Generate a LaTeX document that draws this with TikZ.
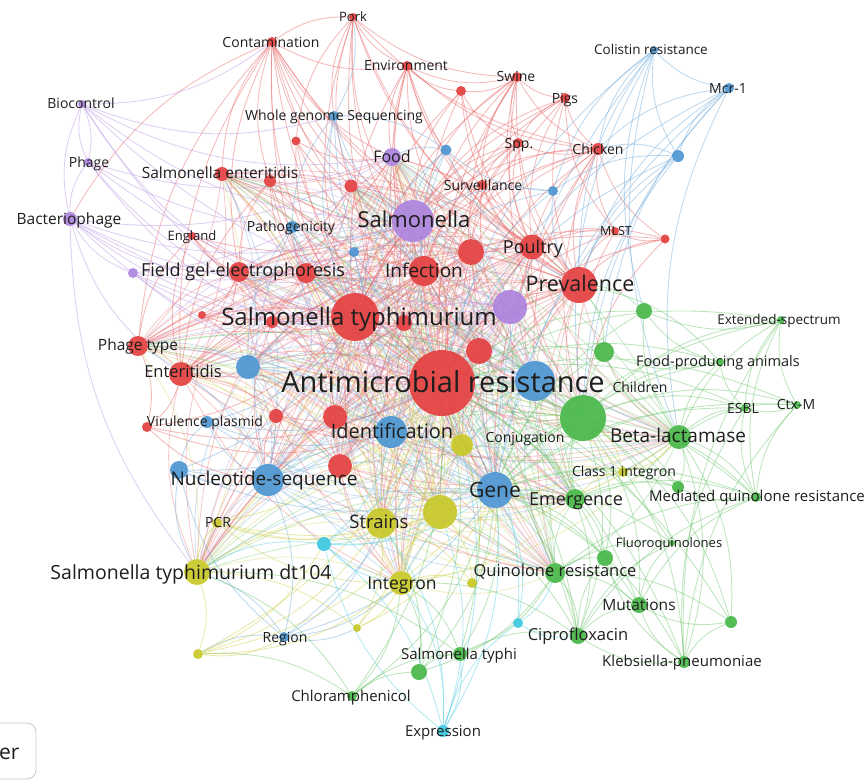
\documentclass[tikz,border=0pt]{standalone}
\usepackage{fontspec}
\setmainfont{Open Sans}
\usetikzlibrary{backgrounds}
\definecolor{cR}{RGB}{228,64,64}
\definecolor{cB}{RGB}{76,150,210}
\definecolor{cG}{RGB}{72,184,72}
\definecolor{cY}{RGB}{200,200,40}
\definecolor{cP}{RGB}{172,132,222}
\definecolor{cC}{RGB}{60,200,224}
\definecolor{txt}{RGB}{30,30,30}
\tikzset{
  vn/.style={circle, inner sep=0pt, draw=none, fill opacity=0.92},
  lab/.style={inner sep=0pt, text=txt, anchor=base},
  edgebase/.style={line width=0.85pt, draw opacity=0.45, bend right=18},
  eR/.style={edgebase, draw=cR!80!white},
  eB/.style={edgebase, draw=cB!80!white},
  eG/.style={edgebase, draw=cG!80!white},
  eY/.style={edgebase, draw=cY!85!white},
  eC/.style={edgebase, draw=cC!85!white},
  eP/.style={edgebase, draw=cP!85!white},
}
\newcommand\vn[5]{\node[vn, fill=#5, minimum size=#4pt] (#1) at (#2,#3) {};}
\newcommand\vl[5]{\node[lab, font=\fontsize{#4}{#4}\selectfont, yshift={-0.36*#4pt}] (#1) at (#2,#3) {#5};}
\begin{document}
\begin{tikzpicture}[x=1pt,y=-1pt]
\useasboundingbox (0,0) rectangle (867,780);
% red
\vn{pork}{353}{17}{8}{cR}
\vn{contam}{272}{42}{10}{cR}
\vn{envir}{407}{66}{10}{cR}
\vn{rA}{461}{91}{10}{cR}
\vn{swine}{517}{77}{10}{cR}
\vn{pigs}{565}{98}{10}{cR}
\vn{spp}{518}{143}{10}{cR}
\vn{chicken}{598}{149}{12}{cR}
\vn{surv}{482}{185}{10}{cR}
\vn{mlst}{615}{231}{8}{cR}
\vn{rB}{665}{239}{9}{cR}
\vn{poultry}{532}{247}{25}{cR}
\vn{prev}{579}{285}{36}{cR}
\vn{rC}{471}{252}{26}{cR}
\vn{infect}{424}{271}{30}{cR}
\vn{rD}{351}{186}{13}{cR}
\vn{senter}{222}{174}{14}{cR}
\vn{rE}{270}{181}{12}{cR}
\vn{rF}{296}{141}{9}{cR}
\vn{england}{192}{236}{8}{cR}
\vn{fge}{239}{272}{20}{cR}
\vn{rG}{306}{273}{20}{cR}
\vn{sty}{355}{317}{48}{cR}
\vn{rH}{202}{315}{8}{cR}
\vn{rI}{272}{322}{12}{cR}
\vn{rJ}{404}{323}{16}{cR}
\vn{phtype}{138}{346}{20}{cR}
\vn{enterit}{181}{374}{24}{cR}
\vn{rK}{147}{427}{10}{cR}
\vn{rL}{276}{416}{14}{cR}
\vn{rM}{335}{417}{24}{cR}
\vn{rN}{340}{466}{24}{cR}
\vn{amr}{442}{383}{66}{cR}
\vn{rO}{479}{351}{26}{cR}
% blue
\vn{colistin}{654}{50}{8}{cB}
\vn{mcr}{729}{88}{10}{cB}
\vn{bA}{678}{156}{12}{cB}
\vn{bB}{446}{150}{11}{cB}
\vn{bC}{553}{191}{10}{cB}
\vn{wgs}{334}{116}{10}{cB}
\vn{pathog}{292}{227}{12}{cB}
\vn{bD}{354}{252}{10}{cB}
\vn{bE}{248}{367}{24}{cB}
\vn{vplas}{207}{422}{12}{cB}
\vn{bF}{179}{470}{18}{cB}
\vn{nucl}{268}{480}{32}{cB}
\vn{ident}{391}{432}{32}{cB}
\vn{bG}{535}{381}{40}{cB}
\vn{gene}{495}{490}{36}{cB}
\vn{region}{284}{637}{10}{cB}
% green
\vn{gA}{583}{418}{46}{cG}
\vn{betal}{679}{437}{24}{cG}
\vn{gB}{644}{311}{16}{cG}
\vn{gC}{604}{352}{20}{cG}
\vn{extsp}{781}{320}{8}{cG}
\vn{fpa}{720}{362}{8}{cG}
\vn{esbl}{745}{408}{8}{cG}
\vn{ctxm}{797}{405}{8}{cG}
\vn{mqr}{756}{497}{10}{cG}
\vn{gD}{678}{487}{12}{cG}
\vn{emerg}{575}{499}{20}{cG}
\vn{gE}{605}{558}{16}{cG}
\vn{fluoro}{672}{543}{6}{cG}
\vn{quinr}{555}{573}{20}{cG}
\vn{mut}{639}{605}{16}{cG}
\vn{gF}{731}{622}{12}{cG}
\vn{cipro}{578}{636}{16}{cG}
\vn{kleb}{684}{662}{12}{cG}
\vn{styphi}{460}{654}{14}{cG}
\vn{gG}{419}{672}{16}{cG}
\vn{chloram}{352}{696}{10}{cG}
% yellow
\vn{dt}{197}{572}{26}{cY}
\vn{yA}{198}{654}{10}{cY}
\vn{pcr}{217}{523}{10}{cY}
\vn{strains}{381}{523}{30}{cY}
\vn{yB}{440}{512}{34}{cY}
\vn{yC}{462}{445}{22}{cY}
\vn{integron}{401}{583}{24}{cY}
\vn{yD}{472}{583}{10}{cY}
\vn{yE}{357}{628}{8}{cY}
\vn{class}{623}{472}{10}{cY}
% cyan
\vn{cyA}{324}{544}{14}{cC}
\vn{cyB}{518}{623}{10}{cC}
\vn{expr}{443}{731}{12}{cC}
% purple
\vn{bioc}{82}{104}{8}{cP}
\vn{phage}{88}{162}{8}{cP}
\vn{bacph}{70}{219}{14}{cP}
\vn{pA}{133}{273}{10}{cP}
\vn{food}{392}{157}{18}{cP}
\vn{salm}{413}{221}{42}{cP}
\vn{pB}{510}{307}{34}{cP}

\begin{pgfonlayer}{background}
\fill[white] (0,0) rectangle (867,780);
% hub-to-hub edges
\foreach \a/\ca [count=\i] in {amr/cR,sty/cR,salm/cP,infect/cR,prev/cR,poultry/cR,rC/cR,rO/cR,pB/cP,bG/cB,gA/cG,ident/cB,gene/cB,nucl/cB,strains/cY,yB/cY,yC/cY,rM/cR,rN/cR,enterit/cR,fge/cR,bE/cB,integron/cY,emerg/cG,quinr/cG,betal/cG,rJ/cR,rG/cR,dt/cY,phtype/cR,senter/cR,rD/cR,food/cP}{
  \foreach \b [count=\j] in {amr,sty,salm,infect,prev,poultry,rC,rO,pB,bG,gA,ident,gene,nucl,strains,yB,yC,rM,rN,enterit,fge,bE,integron,emerg,quinr,betal,rJ,rG,dt,phtype,senter,rD,food}{
    \ifnum\j>\i \draw[edgebase, draw=\ca!80!white, draw opacity=0.35] (\a) to (\b);\fi
  }
}
\foreach \s/\tl in {
pork/{contam,envir,amr,sty,salm,prev,wgs,rF,chicken,swine,infect,poultry,rD},
contam/{amr,sty,salm,infect,prev,poultry,senter,food,envir,fge,rD,bacph,rC,enterit,rE,phtype,ident},
envir/{amr,prev,poultry,swine,rA,salm,surv,chicken,sty,infect,rC,food},
rA/{amr,prev,swine,salm,spp,poultry,sty},
swine/{amr,prev,pigs,spp,poultry,sty,salm,surv,chicken,rC,infect,gA},
pigs/{amr,prev,poultry,sty,chicken,spp,mlst,salm,infect},
spp/{amr,prev,poultry,salm,infect,chicken,surv,rC,sty},
chicken/{amr,prev,poultry,salm,infect,surv,mlst,rB,sty,rC,gA,gene,bG},
surv/{amr,prev,poultry,salm,sty,infect,rC,bG},
mlst/{amr,prev,poultry,rB,sty,gA},
rB/{amr,prev,poultry,sty,gA},
rE/{amr,sty,salm,fge,infect,rG,enterit},
rF/{amr,sty,salm,infect,food},
england/{amr,sty,phtype,fge,enterit,salm,infect},
rH/{amr,sty,salm,infect,fge},
rI/{amr,sty,salm,infect,nucl},
rK/{amr,sty,enterit,nucl,phtype,ident},
rL/{amr,sty,nucl,ident,enterit}}
{\foreach \t in \tl {\draw[eR] (\s) to (\t);}}
\foreach \s/\tl in {
colistin/{mcr,bA,chicken,prev,amr,gene,gB,bC,betal,gA},
mcr/{bA,chicken,amr,prev,gene,betal,gC,gA},
bA/{amr,prev,gene,chicken,bC,gA},
bB/{salm,amr,sty,bC,prev,food,infect,wgs},
bC/{amr,prev,sty,salm},
wgs/{amr,sty,salm,bD,pathog,pork,infect},
pathog/{amr,sty,salm,bD,nucl,bE,ident},
bD/{amr,sty,gene,salm},
vplas/{amr,sty,nucl,bF,gene,ident},
bF/{amr,sty,nucl,dt,gene,region,ident},
region/{dt,gene,integron,amr,yE,nucl,yA,strains}}
{\foreach \t in \tl {\draw[eB] (\s) to (\t);}}
\foreach \s/\tl in {
gB/{amr,prev,extsp,fpa,betal,gene},
gC/{amr,prev,betal,fpa,emerg,gene},
extsp/{amr,esbl,ctxm,gene,kleb,gA,betal,mqr},
fpa/{amr,esbl,prev,gA,betal,gene},
esbl/{ctxm,amr,kleb,mqr,gA,betal,gene},
ctxm/{amr,kleb,mqr,gene,gA,betal},
mqr/{amr,quinr,cipro,emerg,gene,mut,gA,betal},
gD/{amr,mqr,emerg,gene,gA,betal},
gE/{amr,quinr,cipro,gene,mut,emerg,kleb,gA},
fluoro/{amr,cipro,quinr,gA,gene,mut},
mut/{amr,cipro,kleb,gF,gene,quinr,gA},
gF/{amr,kleb,betal,quinr,gA},
cipro/{amr,gene,kleb,styphi,quinr,gA,integron,emerg,sty,yB},
kleb/{amr,gene,betal,gA},
styphi/{amr,gene,chloram,gG,dt,integron,quinr},
gG/{amr,gene,chloram,integron,strains,quinr},
chloram/{amr,dt,integron,yA,gene}}
{\foreach \t in \tl {\draw[eG] (\s) to (\t);}}
\foreach \s/\tl in {
yA/{strains,integron,yB,amr,region,cyA,dt},
pcr/{amr,strains,nucl,integron,gene,dt,yB},
yD/{amr,gene,integron,yB,strains},
yE/{amr,integron,dt,gene,strains},
class/{amr,gene,betal,gA,integron,emerg}}
{\foreach \t in \tl {\draw[eY] (\s) to (\t);}}
\foreach \s/\tl in {
cyA/{amr,gene,strains,integron,ident,dt,expr,yB},
cyB/{amr,gene,expr,cipro,quinr},
expr/{amr,gene,integron,strains,yB,styphi,cyA}}
{\foreach \t in \tl {\draw[eC] (\s) to (\t);}}
\foreach \s/\tl in {
bioc/{bacph,phage,salm,food,amr,sty,contam,wgs,pB},
phage/{bacph,salm,sty,amr,food,bioc,pB},
bacph/{salm,sty,amr,food,pA,fge,enterit,dt,pB,infect},
pA/{salm,sty,amr,food,pB}}
{\foreach \t in \tl {\draw[eP] (\s) to (\t);}}
\end{pgfonlayer}

% labels
\vl{lPork}{353}{17}{13}{Pork}
\vl{lContam}{271}{42}{14}{Contamination}
\vl{lEnvir}{406}{65}{14}{Environment}
\vl{lSwine}{516}{76}{14}{Swine}
\vl{lPigs}{565}{98}{14}{Pigs}
\vl{lColistin}{651}{50}{13.5}{Colistin resistance}
\vl{lMcr}{728}{88}{14}{Mcr-1}
\vl{lBioc}{81}{103}{14}{Biocontrol}
\vl{lWgs}{334}{115}{14}{Whole genome Sequencing}
\vl{lFood}{392}{157}{16}{Food}
\vl{lSenter}{220}{173}{15.5}{Salmonella enteritidis}
\vl{lSpp}{519}{143}{14}{Spp.}
\vl{lChicken}{598}{149}{14}{Chicken}
\vl{lSurv}{483}{185}{14}{Surveillance}
\vl{lPhage}{89}{162}{14}{Phage}
\vl{lBacph}{69}{219}{15.5}{Bacteriophage}
\vl{lEngland}{192}{236}{13}{England}
\vl{lPathog}{291}{226}{14}{Pathogenicity}
\vl{lSalm}{414}{220}{22}{Salmonella}
\vl{lMlst}{616}{231}{12.5}{MLST}
\vl{lPoultry}{533}{247}{18}{Poultry}
\vl{lFge}{243}{270}{18}{Field gel-electrophoresis}
\vl{lInfect}{424}{271}{19}{Infection}
\vl{lPrev}{580}{284}{21.5}{Prevalence}
\vl{lSty}{359}{317}{24}{Salmonella typhimurium}
\vl{lExtsp}{779}{320}{13.5}{Extended-spectrum}
\vl{lPhtype}{138}{345}{15.5}{Phage type}
\vl{lFpa}{718}{361}{14.5}{Food-producing animals}
\vl{lEnterit}{183}{372}{16.5}{Enteritidis}
\vl{lAmr}{443}{382}{29}{Antimicrobial resistance}
\vl{lChildren}{640}{387}{14}{Children}
\vl{lEsbl}{743}{408}{14}{ESBL}
\vl{lCtxm}{796}{404}{14}{Ctx-M}
\vl{lVplas}{205}{421}{14}{Virulence plasmid}
\vl{lIdent}{392}{431}{20}{Identification}
\vl{lConj}{525}{437}{14}{Conjugation}
\vl{lBetal}{678}{436}{19}{Beta-lactamase}
\vl{lClass}{624}{471}{14}{Class 1 integron}
\vl{lNucl}{264}{479}{19}{Nucleotide-sequence}
\vl{lGene}{495}{490}{21}{Gene}
\vl{lEmerg}{576}{499}{18}{Emergence}
\vl{lMqr}{757}{496}{15}{Mediated quinolone resistance}
\vl{lPcr}{218}{522}{14}{PCR}
\vl{lStrains}{379}{522}{18.5}{Strains}
\vl{lFluoro}{669}{543}{13}{Fluoroquinolones}
\vl{lDt}{191}{572}{19.5}{Salmonella typhimurium dt104}
\vl{lQuinr}{555}{571}{16.5}{Quinolone resistance}
\vl{lIntegron}{402}{583}{17.5}{Integron}
\vl{lMut}{639}{605}{15.5}{Mutations}
\vl{lRegion}{285}{637}{14}{Region}
\vl{lCipro}{578}{635}{16.5}{Ciprofloxacin}
\vl{lStyphi}{459}{654}{15}{Salmonella typhi}
\vl{lKleb}{682}{661}{15}{Klebsiella-pneumoniae}
\vl{lChloram}{351}{696}{15}{Chloramphenicol}
\vl{lExpr}{443}{731}{15}{Expression}
% partial button bottom-left
\draw[black!22, line width=0.8pt, rounded corners=9pt] (-30,723) rectangle (36,779);
\node[lab, font=\fontsize{21}{21}\selectfont, anchor=base west] (btn) at (-1,759) {er};
\end{tikzpicture}
\end{document}
